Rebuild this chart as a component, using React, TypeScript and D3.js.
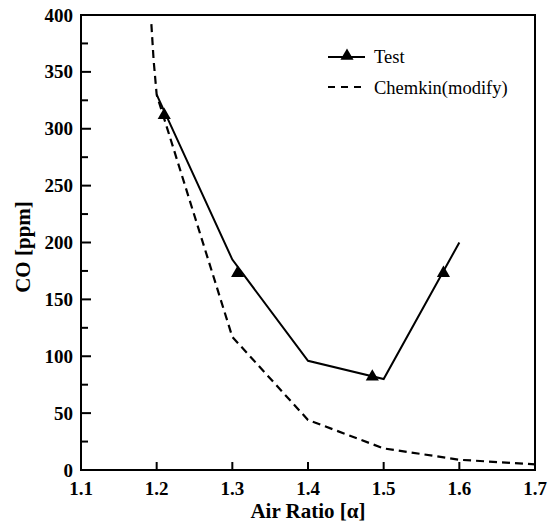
import React, { useEffect, useRef } from "react";
import * as d3 from "d3";

const testLineX = [1.2, 1.3, 1.4, 1.5, 1.6];
const testLineY = [330, 185, 96, 80, 200];
const testMarkX = [1.21, 1.307, 1.485, 1.579];
const testMarkY = [312, 173, 82, 173];
const chemX = [1.193, 1.196, 1.2, 1.3, 1.4, 1.5, 1.6, 1.7];
const chemY = [392, 360, 330, 117, 44, 19, 9, 5];
const xTicks = [1.1, 1.2, 1.3, 1.4, 1.5, 1.6, 1.7];
const yTicks = [0, 50, 100, 150, 200, 250, 300, 350, 400];
const yMinor = [25, 75, 125, 175, 225, 275, 325, 375];

const W = 556, H = 526;
const M = { left: 81, right: 535, top: 15, bottom: 470 };

export default function App() {
  const ref = useRef<SVGSVGElement>(null);
  useEffect(() => {
    const svg = d3.select(ref.current);
    svg.selectAll("*").remove();
    const x = d3.scaleLinear().domain([1.1, 1.7]).range([M.left, M.right]);
    const y = d3.scaleLinear().domain([0, 400]).range([M.bottom, M.top]);
    const font = "'Liberation Serif', 'Times New Roman', serif";

    // frame
    svg.append("rect").attr("x", M.left).attr("y", M.top)
      .attr("width", M.right - M.left).attr("height", M.bottom - M.top)
      .attr("fill", "none").attr("stroke", "#000").attr("stroke-width", 2);

    // y ticks
    yTicks.forEach(v => {
      svg.append("line").attr("x1", M.left).attr("x2", M.left + 10)
        .attr("y1", y(v)).attr("y2", y(v)).attr("stroke", "#000").attr("stroke-width", 2);
      svg.append("text").attr("x", M.left - 8).attr("y", y(v) + 6.5)
        .attr("text-anchor", "end").attr("font-family", font).attr("font-weight", "bold")
        .attr("font-size", 19).text(String(v));
    });
    yMinor.forEach(v => {
      svg.append("line").attr("x1", M.left).attr("x2", M.left + 7)
        .attr("y1", y(v)).attr("y2", y(v)).attr("stroke", "#000").attr("stroke-width", 2);
    });
    xTicks.forEach(v => {
      svg.append("line").attr("x1", x(v)).attr("x2", x(v))
        .attr("y1", M.bottom).attr("y2", M.bottom - 8).attr("stroke", "#000").attr("stroke-width", 2);
      svg.append("text").attr("x", x(v)).attr("y", 495)
        .attr("text-anchor", "middle").attr("font-family", font).attr("font-weight", "bold")
        .attr("font-size", 19).text(v.toFixed(1));
    });

    // titles
    svg.append("text").attr("x", 308).attr("y", 518)
      .attr("text-anchor", "middle").attr("font-family", font).attr("font-weight", "bold")
      .attr("font-size", 21).text("Air Ratio [α]");
    svg.append("text").attr("transform", `translate(30,247) rotate(-90)`)
      .attr("text-anchor", "middle").attr("font-family", font).attr("font-weight", "bold")
      .attr("font-size", 21).text("CO [ppm]");

    const line = d3.line<[number, number]>().x(d => x(d[0])).y(d => y(d[1]));
    const chem = chemX.map((v, i) => [v, chemY[i]] as [number, number]);
    svg.append("path").attr("d", line(chem)).attr("fill", "none").attr("stroke", "#000")
      .attr("stroke-width", 2.2).attr("stroke-dasharray", "8,5");
    const test = testLineX.map((v, i) => [v, testLineY[i]] as [number, number]);
    svg.append("path").attr("d", line(test)).attr("fill", "none").attr("stroke", "#000")
      .attr("stroke-width", 2);
    const tri = d3.symbol().type(d3.symbolTriangle).size(75);
    testMarkX.forEach((v, i) => {
      svg.append("path").attr("d", tri()).attr("transform", `translate(${x(v)},${y(testMarkY[i])})`)
        .attr("fill", "#000");
    });

    // legend
    svg.append("line").attr("x1", 328).attr("x2", 365).attr("y1", 57).attr("y2", 57)
      .attr("stroke", "#000").attr("stroke-width", 2);
    svg.append("path").attr("d", tri()).attr("transform", `translate(347,56)`).attr("fill", "#000");
    svg.append("text").attr("x", 374).attr("y", 63).attr("font-family", font)
      .attr("font-size", 18.5).text("Test");
    svg.append("line").attr("x1", 328).attr("x2", 365).attr("y1", 87).attr("y2", 87)
      .attr("stroke", "#000").attr("stroke-width", 2).attr("stroke-dasharray", "7,6");
    svg.append("text").attr("x", 374).attr("y", 94).attr("font-family", font)
      .attr("font-size", 18.5).text("Chemkin(modify)");
  }, []);
  return (
    <svg ref={ref} width={W} height={H}
      style={{ position: "absolute", left: 0, top: 0, background: "#fff" }} />
  );
}
